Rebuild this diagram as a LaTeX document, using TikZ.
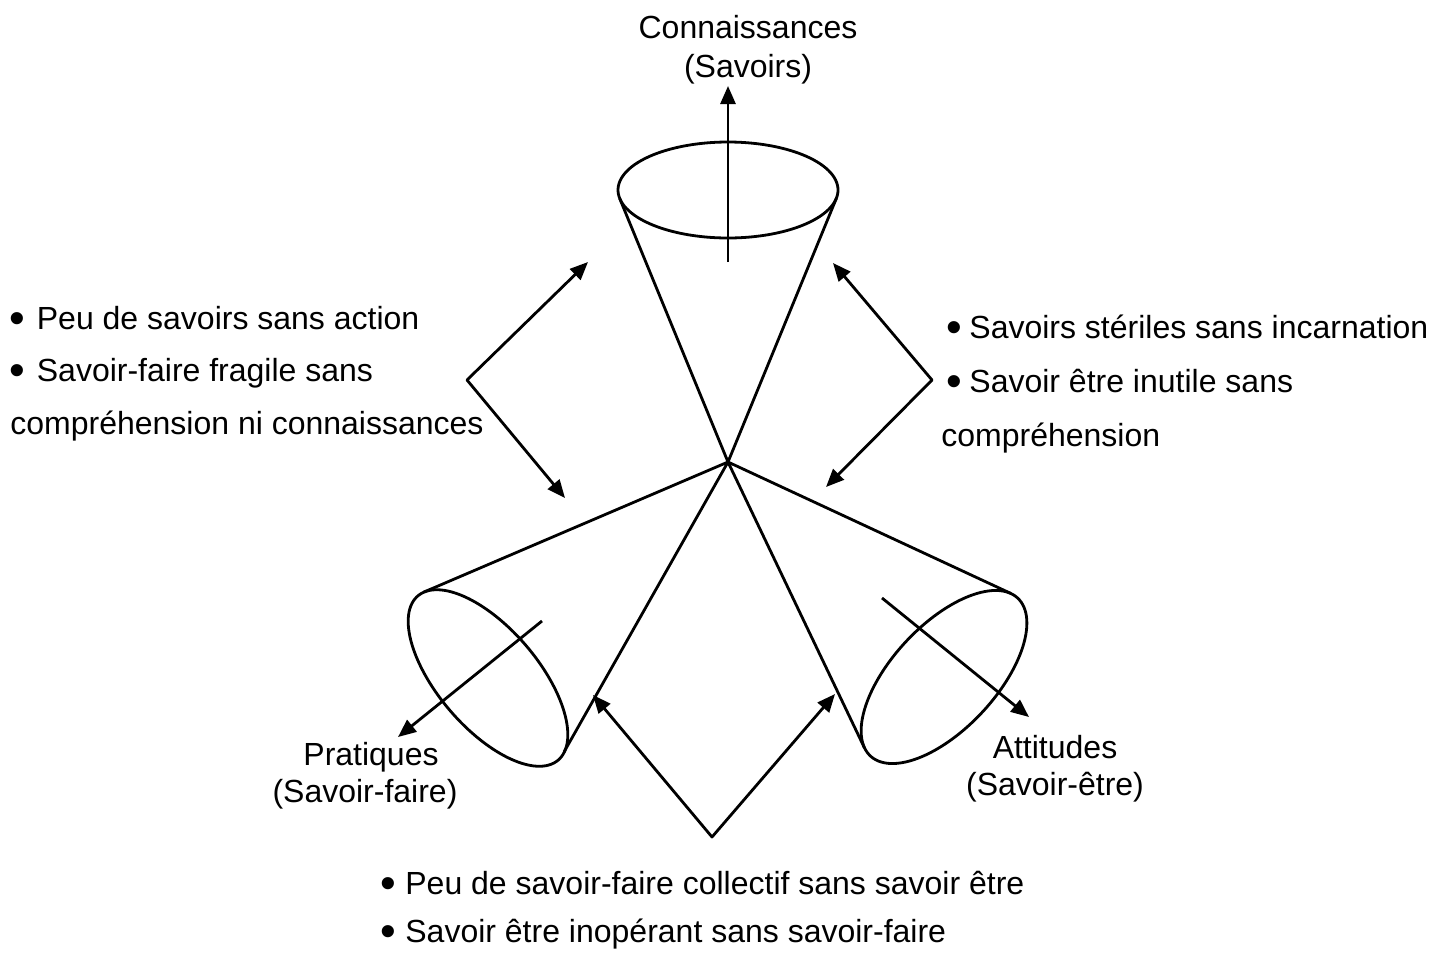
\documentclass[tikz,border=0pt]{standalone}
\usepackage{fontspec}
\setmainfont{Liberation Sans}
\usetikzlibrary{arrows.meta}
\newcommand{\bigbul}{\raisebox{-0.13em}{\scalebox{1.4}{•}}}
\newcommand{\bulL}{\makebox[13.5pt][l]{\bigbul}}
\newcommand{\bulR}{\makebox[11.5pt][l]{\bigbul}}
\newcommand{\bulB}{\makebox[12.5pt][l]{\bigbul}}
\begin{document}
\begin{tikzpicture}[x=0.5pt,y=-0.5pt,line width=1.4pt,line join=round,
  tipone/.style={-{Triangle[length=9pt,width=7.5pt]}},
  tiptwo/.style={{Triangle[length=9pt,width=7.5pt]}-{Triangle[length=9pt,width=7.5pt]}},
  txt/.style={inner sep=0pt,font=\fontsize{16}{19}\selectfont},
  lbl/.style={txt,anchor=base},
  lft/.style={txt,anchor=base west}]
\useasboundingbox (0,0) rectangle (1434,954);

% apex
\coordinate (apex) at (728,462);

% top cone
\draw plot[domain=0:360,samples=120,smooth] ({728+110*cos(\x)},{190+48*sin(\x)});
\coordinate (t1) at (619.7,198.5);
\coordinate (t2) at (836.3,198.5);
\draw (t1) -- (apex) -- (t2);
\coordinate (ta0) at (728,262);
\coordinate (ta1) at (728,86);
\draw[tipone] (ta0) -- (ta1);

% left cone (Pratiques)
\draw plot[domain=0:360,samples=120,smooth]
  ({488+108*cos(\x)*0.65+50*sin(\x)*0.76},{678+108*cos(\x)*0.76-50*sin(\x)*0.65});
\coordinate (l1) at (424,592);
\coordinate (l2) at (564,752);
\draw (l1) -- (apex) -- (l2);
\coordinate (la0) at (542,621);
\coordinate (la1) at (398,737);
\draw[tipone] (la0) -- (la1);

% right cone (Attitudes)
\draw plot[domain=0:360,samples=120,smooth]
  ({944+108*cos(\x)*0.682+52*sin(\x)*0.731},{677-108*cos(\x)*0.731+52*sin(\x)*0.682});
\coordinate (r1) at (1011,593.5);
\coordinate (r2) at (864.5,748);
\draw (r1) -- (apex) -- (r2);
\coordinate (ra0) at (882,598);
\coordinate (ra1) at (1029,717);
\draw[tipone] (ra0) -- (ra1);

% bracket arrows
\coordinate (lv) at (467,380);
\coordinate (lu) at (588,262);
\coordinate (ld) at (565,498);
\draw[tiptwo] (lu) -- (lv) -- (ld);

\coordinate (rv) at (932,380);
\coordinate (ru) at (833,263);
\coordinate (rd) at (826,487);
\draw[tiptwo] (ru) -- (rv) -- (rd);

\coordinate (bv) at (712,837);
\coordinate (bl) at (593,695);
\coordinate (br) at (835,694);
\draw[tiptwo] (bl) -- (bv) -- (br);

% labels
\node[lbl] (conn) at (748,38) {Connaissances};
\node[lbl] (sav) at (748,77) {(Savoirs)};
\node[lbl] (prat) at (371,765) {Pratiques};
\node[lbl] (savf) at (365,802) {(Savoir-faire)};
\node[lbl] (att) at (1055,758) {Attitudes};
\node[lbl] (save) at (1055,795) {(Savoir-être)};

% left block
\node[lft] (L1) at (8.5,329) {\bulL Peu de savoirs sans action};
\node[lft] (L2) at (8.5,381) {\bulL Savoir-faire fragile sans};
\node[lft] (L3) at (9,434) {compréhension ni connaissances};

% right block
\node[lft] (R1) at (945,338) {\bulR Savoirs stériles sans incarnation};
\node[lft] (R2) at (945,392) {\bulR Savoir être inutile sans};
\node[lft] (R3) at (940,446) {compréhension};

% bottom block
\node[lft] (B1) at (379,894) {\bulB Peu de savoir-faire collectif sans savoir être};
\node[lft] (B2) at (379,942) {\bulB Savoir être inopérant sans savoir-faire};
\end{tikzpicture}
\end{document}
